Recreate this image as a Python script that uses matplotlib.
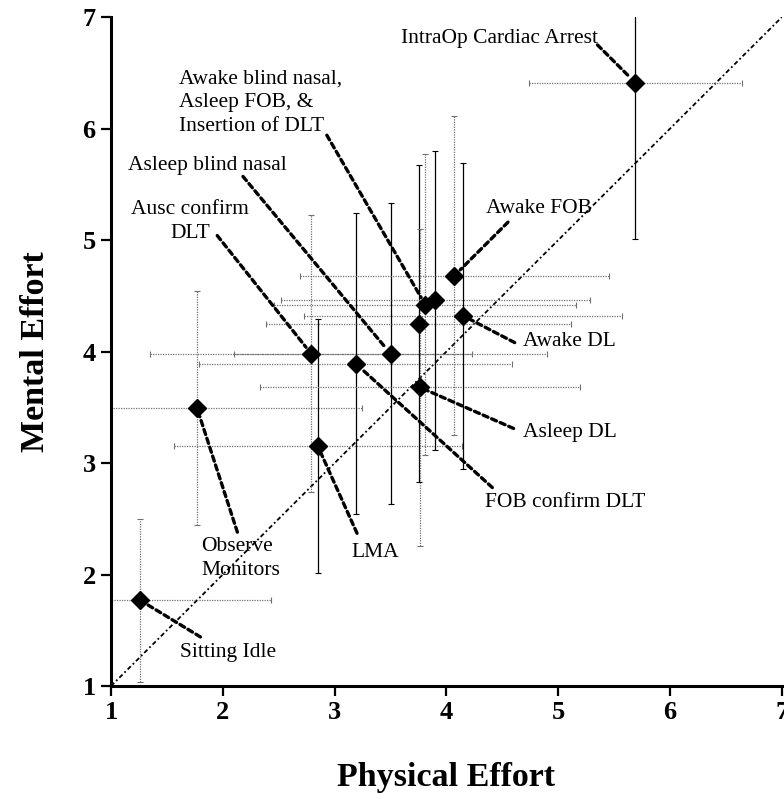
import matplotlib.pyplot as plt

plt.rcParams["font.family"] = ["Liberation Serif", "DejaVu Serif"]

# task means and standard deviations
tasks = ["Sitting Idle", "Observe Monitors", "LMA", "Ausc confirm DLT",
         "FOB confirm DLT", "Asleep blind nasal", "Awake blind nasal",
         "Asleep DL", "Asleep FOB", "Insertion of DLT", "Awake FOB",
         "Awake DL", "IntraOp Cardiac Arrest"]
physical = [1.26, 1.77, 2.85, 2.79, 3.19, 3.50, 3.75, 3.76, 3.81, 3.90, 4.07, 4.15, 5.69]
mental = [1.77, 3.49, 3.15, 3.98, 3.89, 3.98, 4.25, 3.68, 4.42, 4.46, 4.68, 4.32, 6.41]
physical_sd = [1.17, 1.47, 1.29, 1.44, 1.40, 1.40, 1.36, 1.43, 1.35, 1.38, 1.38, 1.42, 0.95]
mental_sd = [0.73, 1.05, 1.14, 1.24, 1.35, 1.35, 1.42, 1.42, 1.35, 1.34, 1.43, 1.37, 1.40]
# vertical bar drawn solid black (True) or dotted grey (False)
solid_v = [False, False, True, False, True, True, True, False, False, True, False, True, True]

ticks = [1, 2, 3, 4, 5, 6, 7]

# callouts: text, text x/y, alignment, leader start x/y, index of task pointed at
callouts = [
    ("IntraOp Cardiac Arrest", 3.59, 6.81, "left", 5.35, 6.75, 12),
    ("Awake blind nasal,\nAsleep FOB, &\nInsertion of DLT", 1.61, 6.23, "left", 2.93, 5.94, 8),
    ("Asleep blind nasal", 1.15, 5.67, "left", 2.18, 5.57, 5),
    ("Ausc confirm\nDLT", 1.71, 5.17, "center", 1.95, 5.04, 3),
    ("Awake FOB", 4.35, 5.28, "left", 4.55, 5.16, 10),
    ("Awake DL", 4.68, 4.09, "left", 4.61, 4.08, 11),
    ("Asleep DL", 4.68, 3.27, "left", 4.60, 3.31, 7),
    ("FOB confirm DLT", 4.34, 2.65, "left", 4.41, 2.78, 4),
    ("LMA", 3.15, 2.20, "left", 3.20, 2.37, 2),
    ("Observe\nMonitors", 1.81, 2.14, "left", 2.13, 2.38, 1),
    ("Sitting Idle", 1.62, 1.30, "left", 1.80, 1.44, 0),
]

fig = plt.figure(figsize=(7.84, 7.99), dpi=100)
ax = fig.add_axes([0.1416, 0.1414, 0.8558, 0.8373])

# identity line
ax.axline((1, 1), slope=1, color="black", lw=1.3, ls=(0, (2.5, 1.5, 1, 1.5)), zorder=1)

for i in range(len(tasks)):
    eb = ax.errorbar(physical[i], mental[i], xerr=physical_sd[i], fmt="none",
                     ecolor="#707070", elinewidth=0.9, capsize=2.5, capthick=0.8, zorder=2)
    eb[2][0].set_linestyle((0, (1, 1)))
    if solid_v[i]:
        ax.errorbar(physical[i], mental[i], yerr=mental_sd[i], fmt="none",
                    ecolor="black", elinewidth=0.9, capsize=2.5, capthick=0.8, zorder=2)
    else:
        eb = ax.errorbar(physical[i], mental[i], yerr=mental_sd[i], fmt="none",
                         ecolor="#707070", elinewidth=0.9, capsize=2.5, capthick=0.8, zorder=2)
        eb[2][0].set_linestyle((0, (1, 1)))

ax.plot(physical, mental, "D", color="black", markersize=9, zorder=4, linestyle="none")

for text, tx, ty, ha, lx, ly, idx in callouts:
    ax.text(tx, ty, text, ha=ha, va="center", fontsize=15.5, multialignment=ha,
            linespacing=1.35, zorder=5)
    ax.annotate("", xy=(physical[idx], mental[idx]), xytext=(lx, ly),
                arrowprops=dict(arrowstyle="-", color="black", lw=2.4,
                                linestyle=(0, (1.6, 1.2)), shrinkA=0, shrinkB=6),
                zorder=3)

ax.set_xlim(1, 7)
ax.set_ylim(1, 7)
ax.set_xticks(ticks)
ax.set_yticks(ticks)
ax.set_xticklabels([str(t) for t in ticks], fontsize=19, fontweight="bold")
ax.set_yticklabels([str(t) for t in ticks], fontsize=19, fontweight="bold")
ax.tick_params(axis="both", direction="out", length=7, width=1.6, pad=4)
for side in ["top", "right"]:
    ax.spines[side].set_visible(False)
for side in ["left", "bottom"]:
    ax.spines[side].set_linewidth(2.2)

ax.set_xlabel("Physical Effort", fontsize=24.5, fontweight="bold", va="center")
ax.set_ylabel("Mental Effort", fontsize=24.5, fontweight="bold", va="center")
ax.xaxis.set_label_coords(0.5, -0.136)
ax.yaxis.set_label_coords(-0.113, 0.5)

fig.savefig("out.png", dpi=100)
